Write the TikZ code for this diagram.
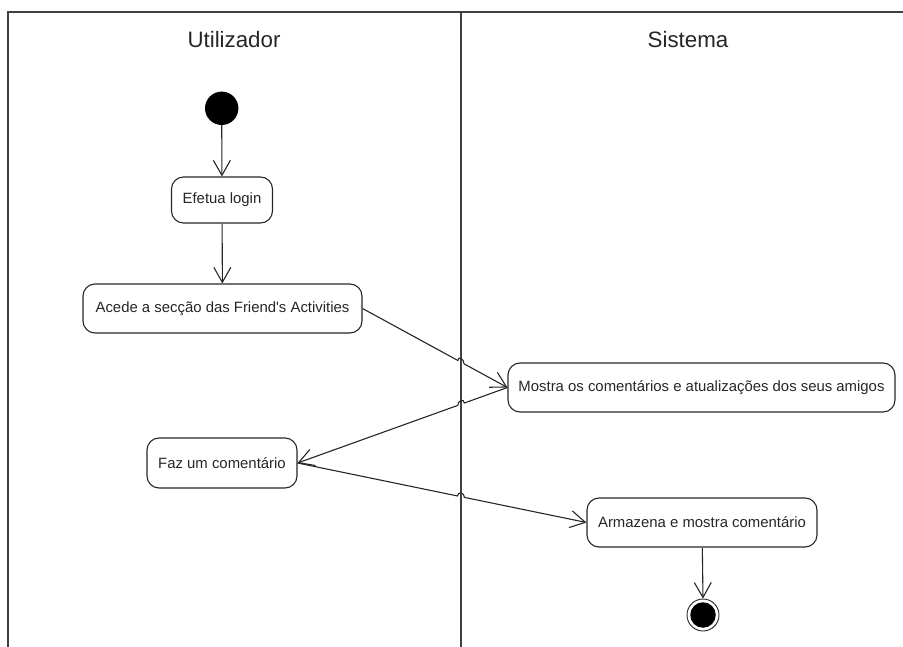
\documentclass[tikz,border=0pt]{standalone}
\usepackage{fontspec}
\setmainfont{Liberation Sans}
\usetikzlibrary{arrows.meta,calc,intersections}
\definecolor{laneline}{HTML}{404040}
\definecolor{ink}{HTML}{262626}
\begin{document}
\begin{tikzpicture}[x=1pt,y=-1pt,
  lane/.style={draw=laneline,line width=1.5pt},
  title/.style={font=\fontsize{22.3}{25}\selectfont,text=ink,inner sep=0pt},
  action/.style={draw=ink,line width=1.1pt,rounded corners=12pt,
    font=\fontsize{14.9}{17}\selectfont,text=ink,inner sep=0pt,align=center},
  flow/.style={draw=ink,line width=1.1pt,
    -{Straight Barb[length=15pt,width=17pt,line width=1.1pt]}}]
\useasboundingbox (0,0) rectangle (903,647);

% swimlane frame
\draw[lane] (8,647) -- (8,12) -- (903,12);
\draw[lane, name path=divider] (461,12) -- (461,647);
\node[title] (lanea) at (234,40) {Utilizador};
\node[title] (laneb) at (688,40) {Sistema};

% initial and final states
\node[circle,fill=black,minimum size=33.4pt,inner sep=0pt] (start) at (221.7,108.3) {};
\node[circle,draw=ink,line width=0.9pt,fill=white,minimum size=32pt,inner sep=0pt] (stop) at (703,615) {};
\node[circle,fill=black,minimum size=25.5pt,inner sep=0pt] (stopcore) at (stop) {};

% actions
\node[action,minimum width=101pt,minimum height=46pt] (login) at (222,200) {Efetua login};
\node[action,minimum width=279pt,minimum height=49pt] (acede) at (222.5,308.5) {Acede a secção das Friend\textquotesingle s Activities};
\node[action,minimum width=387pt,minimum height=49pt] (mostra) at (701.5,387.5) {Mostra os comentários e atualizações dos seus amigos};
\node[action,minimum width=150pt,minimum height=50pt] (faz) at (222,463) {Faz um comentário};
\node[action,minimum width=230pt,minimum height=49pt] (armazena) at (702,522.5) {Armazena e mostra comentário};

% vertical flows
\draw[flow] (start) -- (login);
\draw[flow] (login) -- (acede);
\draw[flow] (armazena) -- (stop.north);

% flows that hop over the lane divider
\path[name path=c1] (acede.east) -- (mostra.west);
\path[name path=c2] (mostra.west) -- (faz.east);
\path[name path=c3] (faz.east) -- (armazena.west);
\path[name intersections={of=divider and c1, by=j1}];
\path[name intersections={of=divider and c2, by=j2}];
\path[name intersections={of=divider and c3, by=j3}];

\draw[flow] (acede.east) -- ($(j1)!3.5pt!(acede.east)$)
  .. controls +(0,-5) and +(0,-5) .. ($(j1)!3.5pt!(mostra.west)$) -- (mostra.west);
\draw[flow] (mostra.west) -- ($(j2)!3.5pt!(mostra.west)$)
  .. controls +(0,-5) and +(0,-5) .. ($(j2)!3.5pt!(faz.east)$) -- (faz.east);
\draw[flow] (faz.east) -- ($(j3)!3.5pt!(faz.east)$)
  .. controls +(0,-5) and +(0,-5) .. ($(j3)!3.5pt!(armazena.west)$) -- (armazena.west);
\end{tikzpicture}
\end{document}
